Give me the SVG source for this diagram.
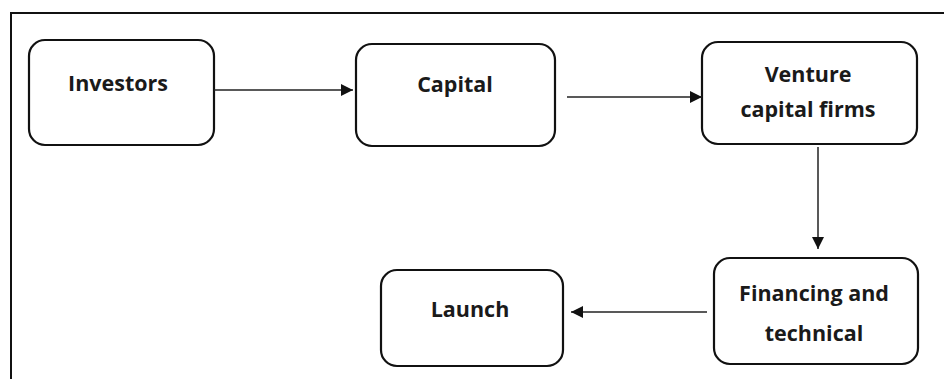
<svg xmlns="http://www.w3.org/2000/svg" width="944" height="379" viewBox="0 0 944 379">
<style>
.box{fill:#fff;stroke:#111;stroke-width:2.2}
.lbl{font-family:"Open Sans","Liberation Sans",sans-serif;font-weight:700;font-size:21.5px;fill:#1a1a1a;text-anchor:middle}
.con{stroke:#222;stroke-width:1.5;fill:none}
</style>
<defs>
<marker id="ah" viewBox="0 0 12 12" refX="12" refY="6" markerWidth="12" markerHeight="12" markerUnits="userSpaceOnUse" orient="auto">
<path d="M0,0 L12,6 L0,12 z" fill="#111"/>
</marker>
</defs>
<rect x="0" y="0" width="944" height="379" fill="#fff"/>
<path d="M11,390 L11,13 L960,13" fill="none" stroke="#111" stroke-width="2"/>
<g id="investors">
<rect class="box" x="29" y="40" width="185" height="105" rx="16"/>
<text class="lbl" x="118" y="90.5">Investors</text>
</g>
<g id="capital">
<rect class="box" x="356" y="44" width="199" height="102" rx="16"/>
<text class="lbl" x="455" y="92">Capital</text>
</g>
<g id="venture">
<rect class="box" x="702" y="42" width="215" height="102" rx="16"/>
<text class="lbl" x="808" y="82">Venture</text>
<text class="lbl" x="808" y="117">capital firms</text>
</g>
<g id="financing">
<rect class="box" x="714" y="258" width="204" height="106" rx="16"/>
<text class="lbl" x="814" y="301">Financing and</text>
<text class="lbl" x="814" y="341">technical</text>
</g>
<g id="launch">
<rect class="box" x="381" y="270" width="182" height="96" rx="16"/>
<text class="lbl" x="470" y="317">Launch</text>
</g>
<g id="connectors">
<line class="con" x1="214" y1="90" x2="353" y2="90" marker-end="url(#ah)"/>
<line class="con" x1="567" y1="97" x2="702" y2="97" marker-end="url(#ah)"/>
<line class="con" x1="818" y1="147" x2="818" y2="249" marker-end="url(#ah)"/>
<line class="con" x1="707" y1="312" x2="571" y2="312" marker-end="url(#ah)"/>
</g>
</svg>
